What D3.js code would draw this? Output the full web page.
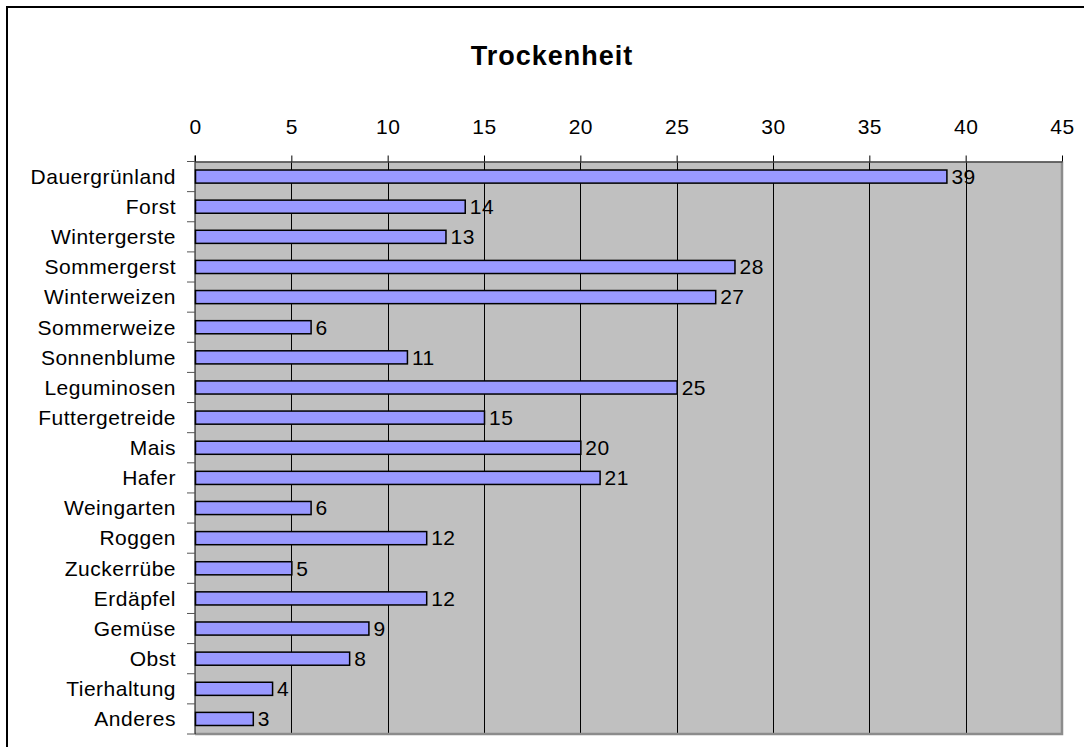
<!DOCTYPE html>
<meta charset="utf-8">
<style>
body { margin: 0; background: #fff; }
svg { font-family: "Liberation Sans", Arial, sans-serif; }
.title { font-weight: bold; font-size: 27px; letter-spacing: 1px; }
.cat, .val, .tick-label { font-size: 21px; letter-spacing: 0.5px; }
</style>
<body>
<script src="https://cdnjs.cloudflare.com/ajax/libs/d3/7.8.5/d3.min.js"></script>
<script>

var categories = ["Dauergrünland", "Forst", "Wintergerste", "Sommergerst", "Winterweizen",
  "Sommerweize", "Sonnenblume", "Leguminosen", "Futtergetreide", "Mais", "Hafer",
  "Weingarten", "Roggen", "Zuckerrübe", "Erdäpfel", "Gemüse", "Obst", "Tierhaltung", "Anderes"];
var values = [39, 14, 13, 28, 27, 6, 11, 25, 15, 20, 21, 6, 12, 5, 12, 9, 8, 4, 3];
var ticks = [0, 5, 10, 15, 20, 25, 30, 35, 40, 45];
var title = "Trockenheit";

var width = 1084, height = 747;
var plotLeft = 195, plotRight = 1062, plotTop = 161.5, plotBottom = 734;

var svg = d3.select("body").append("svg")
    .attr("width", width)
    .attr("height", height);

// chart frame
svg.append("path")
    .attr("d", "M7," + height + "V7H" + width)
    .attr("fill", "none")
    .attr("stroke", "#000")
    .attr("stroke-width", 2);

svg.append("text")
    .attr("class", "title")
    .attr("x", 552)
    .attr("y", 65)
    .attr("text-anchor", "middle")
    .text(title);

var x = d3.scaleLinear().domain([0, 45]).range([plotLeft, plotRight]);
var y = d3.scaleBand().domain(categories).range([plotTop, plotBottom]).paddingInner(0.565).paddingOuter(0.2825);
var band = d3.scaleBand().domain(categories).range([plotTop, plotBottom]);

// plot area
svg.append("rect")
    .attr("x", plotLeft)
    .attr("y", plotTop)
    .attr("width", plotRight - plotLeft)
    .attr("height", plotBottom - plotTop)
    .attr("fill", "#c0c0c0");

// gridlines
svg.selectAll(".grid")
    .data(ticks.slice(1, -1))
  .enter().append("line")
    .attr("x1", function(d) { return Math.round(x(d)) + 0.5; })
    .attr("x2", function(d) { return Math.round(x(d)) + 0.5; })
    .attr("y1", plotTop)
    .attr("y2", plotBottom)
    .attr("stroke", "#000")
    .attr("stroke-width", 1);

// right + bottom border
svg.append("path")
    .attr("d", "M" + plotRight + "," + plotTop + "V" + plotBottom + "H" + plotLeft)
    .attr("fill", "none")
    .attr("stroke", "#8c8c8c")
    .attr("stroke-width", 2.5);

// top axis
var xAxis = d3.axisTop(x).tickValues(ticks).tickSize(6).tickPadding(22).tickSizeOuter(0);
var gx = svg.append("g")
    .attr("transform", "translate(0," + plotTop + ")")
    .call(xAxis);
gx.select(".domain").attr("stroke", "#444").attr("stroke-width", 1.5);
gx.selectAll(".tick line").attr("stroke", "#000");
gx.selectAll("text").attr("class", "tick-label").attr("font-size", null).attr("font-family", null).attr("fill", "#000");

// left axis with category boundary ticks
svg.append("line")
    .attr("x1", plotLeft).attr("x2", plotLeft)
    .attr("y1", plotTop - 6).attr("y2", plotBottom)
    .attr("stroke", "#000");
svg.selectAll(".ctick")
    .data(categories.concat([null]))
  .enter().append("line")
    .attr("x1", plotLeft - 8).attr("x2", plotLeft)
    .attr("y1", function(d, i) { return plotTop + i * band.step(); })
    .attr("y2", function(d, i) { return plotTop + i * band.step(); })
    .attr("stroke", "#555");

svg.selectAll(".cat")
    .data(categories)
  .enter().append("text")
    .attr("class", "cat")
    .attr("x", 176)
    .attr("y", function(d) { return band(d) + band.bandwidth() / 2; })
    .attr("dy", "0.35em")
    .attr("text-anchor", "end")
    .text(function(d) { return d; });

// bars
svg.selectAll(".bar")
    .data(values)
  .enter().append("rect")
    .attr("x", x(0) + 0.5)
    .attr("y", function(d, i) { return y(categories[i]); })
    .attr("width", function(d) { return x(d) - x(0); })
    .attr("height", y.bandwidth())
    .attr("fill", "#9999ff")
    .attr("stroke", "#000")
    .attr("stroke-width", 1.5);

svg.selectAll(".val")
    .data(values)
  .enter().append("text")
    .attr("class", "val")
    .attr("x", function(d) { return x(d) + 5; })
    .attr("y", function(d, i) { return band(categories[i]) + band.bandwidth() / 2; })
    .attr("dy", "0.35em")
    .text(function(d) { return d; });

</script>
